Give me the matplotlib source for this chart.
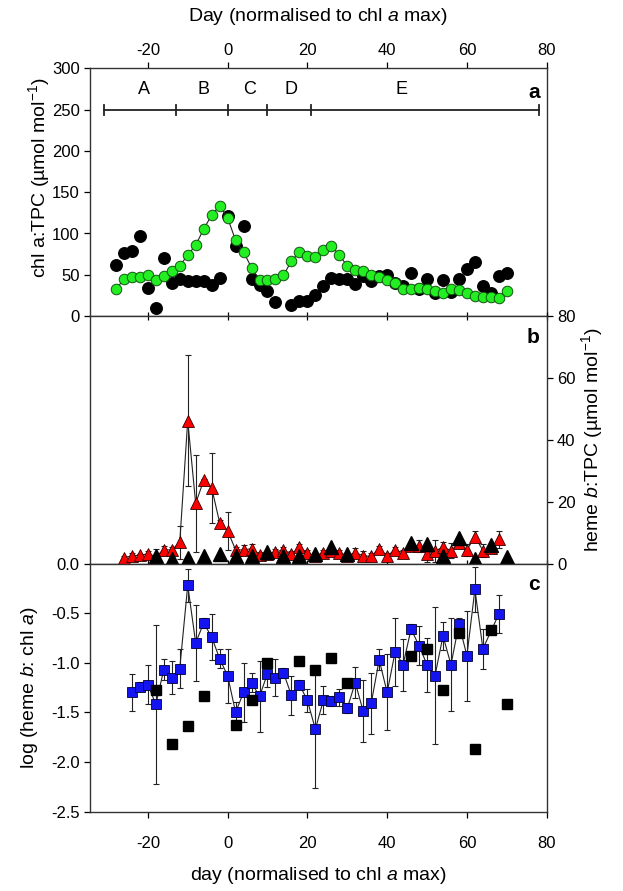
import numpy as np
import matplotlib
matplotlib.use("Agg")
import matplotlib.pyplot as plt

plt.rcParams['font.family'] = ['Liberation Sans', 'DejaVu Sans']
plt.rcParams['mathtext.fontset'] = 'custom'
plt.rcParams['mathtext.rm'] = 'Liberation Sans'
plt.rcParams['mathtext.it'] = 'Liberation Sans:italic'
plt.rcParams['mathtext.bf'] = 'Liberation Sans:bold'
plt.rcParams['axes.unicode_minus'] = False

# ---------------- data ----------------
# panel a: chl a:TPC
green_day = list(range(-28, 71, 2))
green_val = [32.4, 44.6, 47.8, 47.8, 49.4, 43.7, 48.6, 54.3, 60.8, 73.8,
             85.9, 105.3, 122.3, 133.7, 119.1, 91.6, 77.8, 58.3, 43.7, 43.7,
             44.6, 49.4, 66.5, 77.8, 72.2, 71.3, 79.5, 85.1, 73.8, 60.8,
             55.9, 54.3, 50.3, 47.8, 43.7, 39.7, 33.3, 32.4, 34.0, 32.4,
             30.8, 27.6, 32.4, 31.6, 27.6, 24.3, 23.5, 23.5, 21.9, 30.8]

black_a_day = [-28, -26, -24, -22, -20, -18, -16, -14, -12, -10, -8, -6, -4, -2,
               0, 2, 4, 6, 8, 10, 12, 16, 18, 20, 22, 24, 26, 28, 30, 32, 34,
               36, 38, 40, 42, 44, 46, 48, 50, 52, 54, 56, 58, 60, 62, 64, 66,
               68, 70]
black_a_val = [61.6, 76.2, 78.6, 97.2, 34.0, 9.7, 69.7, 40.6, 45.4, 43.0, 43.0,
               42.2, 37.3, 46.2, 120.8, 85.1, 109.4, 44.6, 38.1, 30.0, 17.0,
               13.0, 18.5, 17.9, 26.0, 36.5, 46.2, 45.4, 44.6, 38.9, 48.6,
               43.0, 48.6, 50.3, 40.6, 36.5, 51.9, 33.3, 45.0, 28.4, 44.0,
               29.0, 44.6, 56.7, 65.6, 36.5, 28.4, 48.6, 52.7]

phase_edges = [-31, -13, 0, 10, 21, 78]
phase_labels = ['A', 'B', 'C', 'D', 'E']
phase_label_x = [-21, -6, 5.5, 16, 43.5]
phase_y = 250

# panel b: heme b:TPC
red_day = list(range(-26, 69, 2))
red_val = [1.8, 2.5, 2.7, 3.1, 2.3, 4.4, 4.4, 6.8, 46.2, 19.4,
           26.9, 24.5, 13.2, 10.6, 4.4, 4.4, 4.8, 2.7, 3.0, 3.8,
           4.4, 3.0, 5.3, 3.3, 2.5, 3.5, 4.0, 3.5, 2.5, 3.5,
           2.5, 2.3, 4.8, 2.5, 4.4, 3.5, 5.5, 5.7, 3.1, 4.0,
           5.3, 4.2, 6.5, 4.4, 8.7, 4.2, 5.0, 7.8]
red_err = [0.5, 0.8, 0.5, 0.8, 2.4, 1.2, 1.0, 5.4, 21.2, 15.7,
           0.5, 11.3, 1.0, 6.2, 1.0, 1.5, 1.5, 1.0, 1.0, 1.0,
           1.0, 1.0, 1.0, 1.0, 0.5, 1.0, 1.0, 1.0, 0.5, 1.5,
           1.5, 1.0, 1.0, 1.0, 1.0, 1.0, 1.0, 2.0, 2.5, 3.5,
           1.5, 2.5, 1.0, 2.0, 1.7, 2.0, 1.0, 2.8]

black_b_day = [-18, -14, -10, -6, -2, 2, 6, 10, 14, 18, 22, 26, 30,
               46, 50, 54, 58, 62, 66, 70]
black_b_val = [2.3, 1.6, 1.8, 2.3, 3.1, 2.5, 2.5, 3.8, 2.5, 2.3, 3.1, 5.4, 3.1,
               6.5, 6.3, 2.5, 8.1, 1.4, 6.1, 2.0]

# panel c: log(heme b : chl a)
blue_day = [-24, -22, -20, -18, -16, -14, -12, -10, -8, -6, -4, -2, 0, 2, 4,
            6, 8, 10, 12, 14, 16, 18, 20, 22, 24, 26, 28, 30, 32, 34, 36, 38,
            40, 42, 44, 46, 48, 50, 52, 54, 56, 58, 60, 62, 64, 68]
blue_val = [-1.30, -1.24, -1.22, -1.42, -1.07, -1.15, -1.06, -0.22, -0.80,
            -0.60, -0.74, -0.96, -1.13, -1.50, -1.30, -1.20, -1.34, -1.11,
            -1.15, -1.10, -1.33, -1.22, -1.38, -1.67, -1.38, -1.39, -1.35,
            -1.46, -1.20, -1.49, -1.41, -0.97, -1.30, -0.89, -1.02, -0.66,
            -0.83, -1.02, -1.13, -0.73, -1.02, -0.61, -0.93, -0.26, -0.86,
            -0.51]
blue_err = [0.185, 0.05, 0.195, 0.805, 0.107, 0.168, 0.198, 0.164, 0.386,
            0.05, 0.232, 0.094, 0.272, 0.10, 0.295, 0.10, 0.362, 0.134,
            0.188, 0.05, 0.20, 0.05, 0.114, 0.59, 0.141, 0.05, 0.087, 0.05,
            0.154, 0.312, 0.309, 0.107, 0.383, 0.342, 0.262, 0.05, 0.195,
            0.272, 0.688, 0.144, 0.466, 0.06, 0.453, 0.228, 0.20, 0.188]

black_c_day = [-18, -14, -10, -6, 2, 6, 10, 18, 22, 26, 30, 46, 50, 54, 58,
               62, 66, 70]
black_c_val = [-1.275, -1.819, -1.637, -1.336, -1.624, -1.376, -1.00, -0.98,
               -1.074, -0.953, -1.201, -0.933, -0.859, -1.275, -0.705, -1.872,
               -0.671, -1.416]

x_ticks = [-20, 0, 20, 40, 60, 80]

# ---------------- figure ----------------
fig = plt.figure(figsize=(6.23, 8.91), dpi=100)
L, R = 90 / 623, 546.7 / 623
W = R - L
def ybox(top_px, bot_px):
    return 1 - bot_px / 891, (bot_px - top_px) / 891

b_a, h_a = ybox(68.5, 316)
b_b, h_b = ybox(316, 563.5)
b_c, h_c = ybox(563.5, 811.5)
ax_a = fig.add_axes([L, b_a, W, h_a])
ax_b = fig.add_axes([L, b_b, W, h_b])
ax_c = fig.add_axes([L, b_c, W, h_c])

spine_col = '#333333'
for ax in (ax_a, ax_b, ax_c):
    ax.set_xlim(-34.5, 80)
    ax.set_xticks(x_ticks)
    for s in ax.spines.values():
        s.set_color(spine_col)
        s.set_linewidth(1.0)
    ax.tick_params(colors='black', labelsize=12, width=0.9, length=4)

line_kw = dict(color='#222222', lw=0.8)

# ---- panel a ----
ax_a.set_ylim(0, 300)
ax_a.set_yticks(np.arange(0, 301, 50))
ax_a.tick_params(axis='x', top=True, labeltop=True, bottom=False,
                 labelbottom=False, direction='out')
ax_a.tick_params(axis='y', left=True, right=False, direction='out')
ax_a.plot(black_a_day, black_a_val, 'o', ms=8.3, mfc='black', mec='black',
          zorder=2)
ax_a.plot(green_day, green_val, '-', zorder=3, **line_kw)
ax_a.plot(green_day, green_val, 'o', ms=7.6, mfc='#22ee22', mec='#115511',
          mew=0.7, zorder=4)
ax_a.plot([phase_edges[0], phase_edges[-1]], [phase_y, phase_y], color='#222222',
          lw=1.3)
for e in phase_edges:
    ax_a.plot([e, e], [phase_y - 6, phase_y + 6], color='#222222', lw=1.3)
for lab, lx in zip(phase_labels, phase_label_x):
    ax_a.text(lx, 275, lab, ha='center', va='center', fontsize=13)
ax_a.text(0.985, 0.905, 'a', transform=ax_a.transAxes, ha='right',
          va='center', fontsize=15, fontweight='bold')
ax_a.set_xlabel(r'Day (normalised to chl $\it{a}$ max)', fontsize=14,
                labelpad=16)
ax_a.xaxis.set_label_position('top')
ax_a.set_ylabel(r'chl a:TPC (µmol mol$^{-1}$)', fontsize=14)
ax_a.yaxis.set_label_coords(-0.084, 0.56)

# ---- panel b ----
ax_b.set_ylim(0, 80)
ax_b.yaxis.tick_right()
ax_b.yaxis.set_label_position('right')
ax_b.set_yticks([0, 20, 40, 60, 80])
ax_b.tick_params(axis='y', left=False, right=True, labelright=True,
                 labelleft=False, direction='out')
ax_b.tick_params(axis='x', top=True, bottom=True, labelbottom=False,
                 labeltop=False, direction='inout', length=6)
ax_b.errorbar(red_day, red_val, yerr=red_err, fmt='none', ecolor='#222222',
              elinewidth=0.8, capsize=2.5, capthick=0.8, zorder=2)
ax_b.plot(red_day, red_val, '-', zorder=3, **line_kw)
ax_b.plot(red_day, red_val, '^', ms=9, mfc='#ff0000', mec='#330000', mew=0.6,
          zorder=4)
ax_b.plot(black_b_day, black_b_val, '^', ms=9.5, mfc='black', mec='black',
          zorder=5)
ax_b.text(0.985, 0.915, 'b', transform=ax_b.transAxes, ha='right',
          va='center', fontsize=15, fontweight='bold')
ax_b.set_ylabel(r'heme $\it{b}$:TPC (µmol mol$^{-1}$)', fontsize=14)
ax_b.yaxis.set_label_coords(1.072, 0.5)

# ---- panel c ----
ax_c.set_ylim(-2.5, 0.0)
ax_c.set_yticks([-2.5, -2.0, -1.5, -1.0, -0.5, 0.0])
ax_c.set_yticklabels(['-2.5', '-2.0', '-1.5', '-1.0', '-0.5', '0.0'])
ax_c.tick_params(axis='y', left=True, right=False, direction='out')
ax_c.tick_params(axis='x', top=False, bottom=True, direction='out', pad=14)
ax_c.set_xticklabels([str(t) for t in x_ticks])
ax_c.errorbar(blue_day, blue_val, yerr=blue_err, fmt='none', ecolor='#222222',
              elinewidth=0.8, capsize=2.5, capthick=0.8, zorder=2)
ax_c.plot(blue_day, blue_val, '-', zorder=3, **line_kw)
ax_c.plot(blue_day, blue_val, 's', ms=7.8, mfc='#1414f0', mec='#000033',
          mew=0.6, zorder=4)
ax_c.plot(black_c_day, black_c_val, 's', ms=7.8, mfc='black', mec='black',
          zorder=5)
ax_c.text(0.985, 0.915, 'c', transform=ax_c.transAxes, ha='right',
          va='center', fontsize=15, fontweight='bold')
ax_c.set_xlabel(r'day (normalised to chl $\it{a}$ max)', fontsize=14,
                labelpad=10)
ax_c.set_ylabel(r'log (heme $\it{b}$: chl $\it{a}$)', fontsize=14)
ax_c.yaxis.set_label_coords(-0.11, 0.5)

fig.savefig('out.png', dpi=100)
